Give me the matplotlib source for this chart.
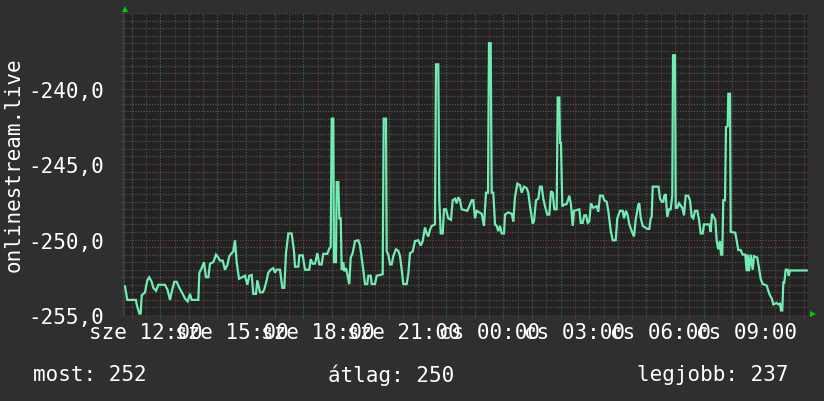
import matplotlib

matplotlib.use("Agg")
import matplotlib.pyplot as plt
from matplotlib.ticker import FixedLocator, MultipleLocator, FuncFormatter

# time in hours (12 = "sze 12:00", 24 = "cs 00:00"), values as plotted (negated)
TIMES = [
    11.266, 11.346, 11.650, 11.675, 11.766, 11.814, 11.850, 11.965, 12.046, 12.116,
    12.198, 12.256, 12.350, 12.431, 12.664, 12.757, 12.839, 12.921, 12.991, 13.072,
    13.166, 13.282, 13.376, 13.457, 13.538, 13.597, 13.830, 13.865, 13.947, 14.028,
    14.098, 14.180, 14.238, 14.354, 14.448, 14.530, 14.587, 14.681, 14.762, 14.843,
    14.913, 14.996, 15.052, 15.112, 15.171, 15.252, 15.462, 15.542, 15.612, 15.696,
    15.752, 15.846, 15.892, 15.986, 16.080, 16.136, 16.220, 16.276, 16.360, 16.451,
    16.510, 16.570, 16.685, 16.766, 16.836, 16.895, 16.976, 17.094,
    17.175, 17.210, 17.326, 17.361, 17.479, 17.559, 17.710, 17.759, 17.829, 17.909,
    17.990, 18.060, 18.143, 18.199, 18.339, 18.409, 18.458, 18.493, 18.549, 18.573,
    18.643, 18.668, 18.724, 18.759, 18.808, 18.843, 18.899, 18.934, 18.993, 19.038,
    19.108, 19.157, 19.227, 19.308, 19.423, 19.483, 19.542, 19.598, 19.657, 19.738,
    19.773, 19.857, 19.892, 20.007, 20.066, 20.182, 20.276, 20.311, 20.392, 20.416,
    20.472, 20.531, 20.591, 20.647, 20.741, 20.822, 20.881, 20.941, 20.997, 21.115,
    21.171, 21.231, 21.325, 21.406, 21.521, 21.605, 21.675, 21.755, 21.815, 21.871,
    21.930, 21.990, 22.105, 22.140, 22.220, 22.255, 22.304, 22.374, 22.420, 22.490,
    22.570, 22.664, 22.724, 22.804, 22.864, 22.920,
    22.979, 23.038, 23.234, 23.304, 23.388, 23.444, 23.503, 23.563, 23.738, 23.818,
    23.888, 23.958, 23.993, 24.052, 24.087, 24.143, 24.203, 24.262, 24.318, 24.378,
    24.437, 24.517, 24.552, 24.668, 24.787, 24.843, 24.902, 24.983, 25.077, 25.136,
    25.217, 25.311, 25.367, 25.427, 25.521, 25.566, 25.636, 25.717, 25.776, 25.836,
    25.892, 25.951, 26.031, 26.101, 26.161, 26.220, 26.276, 26.360, 26.395, 26.451,
    26.476, 26.510, 26.556, 26.615, 26.710, 26.801, 26.860, 26.920, 26.965, 27.150,
    27.200, 27.269, 27.325, 27.385, 27.444, 27.500, 27.559, 27.640, 27.759, 27.815,
    27.874, 27.968, 28.024, 28.108, 28.164, 28.248, 28.318, 28.423, 28.479, 28.573,
    28.668, 28.713, 28.783, 28.843, 28.899, 28.983, 29.063, 29.122, 29.213,
    29.248, 29.297, 29.367, 29.448, 29.528, 29.598, 29.647, 29.682, 29.717, 29.920,
    29.972, 30.031, 30.087, 30.122, 30.171, 30.227, 30.287, 30.346, 30.402, 30.427,
    30.497, 30.521, 30.577, 30.636, 30.752, 30.811, 30.871, 30.962, 31.021, 31.081,
    31.137, 31.196, 31.277, 31.336, 31.395, 31.465, 31.510, 31.696, 31.745, 31.790,
    31.906, 31.955, 32.011, 32.070, 32.105, 32.150, 32.185, 32.245, 32.280, 32.339,
    32.360, 32.420, 32.444, 32.605, 32.654, 32.710, 32.794, 32.864, 32.955, 33.003,
    33.038, 33.084, 33.143, 33.213, 33.259, 33.374, 33.444, 33.493, 33.563, 33.643,
    33.703, 33.759, 33.818, 33.878, 33.934, 34.052, 34.108, 34.168, 34.203, 34.248,
    34.283, 34.318, 34.367, 34.437, 34.472, 34.517, 35.101,
]
VALUES = [
    -253.1, -254.0, -254.0, -254.3, -254.9, -254.9, -253.7, -253.5, -252.7, -252.5,
    -252.8, -253.2, -253.4, -253.0, -253.0, -253.35, -254.0, -253.3, -252.8, -252.8,
    -253.2, -253.6, -253.95, -254.1, -253.6, -254.0, -254.0, -252.2, -251.9, -251.5,
    -252.5, -252.5, -251.6, -251.5, -251.0, -251.2, -251.4, -251.4, -252.0, -251.7,
    -251.1, -250.9, -250.8, -250.05, -251.5, -252.6, -252.4, -253.0, -252.4, -252.35,
    -253.6, -253.6, -252.7, -253.5, -253.5, -253.3, -252.7, -252.2, -252.0, -251.9,
    -252.2, -252.0, -252.0, -253.2, -253.2, -250.9, -249.6, -249.6,
    -250.8, -251.8, -251.8, -251.05, -251.05, -252.0, -252.0, -251.3, -251.6, -251.6,
    -250.9, -251.65, -251.65, -250.95, -250.95, -250.6, -250.5, -242.0, -242.0, -251.5,
    -251.5, -246.2, -246.2, -248.6, -248.6, -252.0, -251.5, -252.1, -251.9, -252.3,
    -252.96, -251.2, -250.9, -250.1, -250.05, -250.4, -251.2, -252.0, -252.95, -252.95,
    -252.4, -252.4, -252.95, -252.95, -252.4, -252.35, -252.3, -242.0, -242.0, -250.8,
    -251.0, -251.65, -251.65, -251.1, -250.65, -250.75, -251.1, -252.0, -252.95, -252.95,
    -252.3, -250.9, -250.8, -250.1, -250.05, -250.4, -250.1, -249.2, -249.6, -249.8,
    -249.35, -249.1, -249.0, -238.4, -238.4, -247.4, -249.6, -249.6, -248.0, -248.0,
    -248.6, -248.7, -247.4, -247.3, -247.6, -247.2,
    -247.4, -248.0, -248.1, -247.8, -247.4, -247.4, -248.6, -248.1, -248.3, -249.1,
    -246.9, -246.9, -237.0, -237.0, -246.9, -246.9, -249.0, -249.1, -249.45, -249.1,
    -249.6, -249.6, -248.35, -248.2, -248.3, -248.8, -247.2, -246.3, -246.4, -246.9,
    -246.5, -246.6, -246.9, -247.8, -248.95, -248.8, -247.4, -247.3, -246.5, -246.5,
    -247.3, -247.8, -248.35, -248.35, -246.8, -246.9, -248.0, -248.0, -240.6, -240.6,
    -243.6, -243.6, -247.8, -247.7, -247.65, -247.1, -247.7, -249.1, -248.1, -248.0,
    -248.9, -248.9, -248.4, -248.4, -248.9, -248.8, -247.6, -247.9, -247.8, -248.15,
    -247.1, -247.1, -247.4, -247.5, -248.1, -249.4, -250.05, -250.05, -248.6, -248.1,
    -248.1, -248.6, -248.1, -248.4, -249.0, -249.45, -249.8, -248.7, -247.7,
    -247.6, -248.55, -249.1, -249.2, -249.3, -249.3, -248.6, -248.5, -246.5, -246.5,
    -247.3, -247.5, -247.5, -247.1, -247.0, -248.5, -248.0, -248.0, -247.1, -237.8,
    -237.8, -247.9, -247.9, -247.6, -247.9, -248.4, -247.1, -247.1, -247.4, -248.5,
    -248.6, -248.1, -248.1, -248.7, -249.6, -249.6, -249.0, -249.0, -249.5, -248.3,
    -248.7, -250.1, -250.65, -250.1, -251.0, -251.0, -247.4, -247.4, -242.55, -242.5,
    -240.35, -240.35, -249.5, -249.55, -250.1, -250.7, -250.7, -251.0, -251.0, -252.1,
    -251.0, -252.1, -251.0, -252.0, -251.1, -251.2, -252.0, -252.6, -252.95, -253.0,
    -253.05, -253.4, -253.7, -253.9, -254.3, -254.2, -254.3, -254.25, -254.7, -254.7,
    -252.85, -252.85, -252.0, -252.0, -252.4, -252.05, -252.05,
]

Y_TICKS = [-255, -250, -245, -240]
LABEL_HOURS = [12, 15, 18, 21, 24, 27, 30, 33]
LABEL_TEXT = ["sze 12:00", "sze 15:00", "sze 18:00", "sze 21:00",
              "cs 00:00", "cs 03:00", "cs 06:00", "cs 09:00"]
X_START, X_END = 11.231, 35.147
Y_MIN, Y_MAX = -255, -235
Y_TITLE = "onlinestream.live"
LEGEND = [("most", 252), ("átlag", 250), ("legjobb", 237)]

BG = "#2f2f2f"
PLOT_BG = "#222222"
MAJOR = "#6e3838"
MINOR = "#525252"
LINE = "#72ecb2"
ARROW = "#00cc00"

plt.rcParams["font.family"] = "DejaVu Sans Mono"
plt.rcParams["font.size"] = 15

W, H = 824, 402
fig = plt.figure(figsize=(W / 100, H / 100), dpi=100, facecolor=BG)
ax = fig.add_axes([124 / W, 1 - 316 / H, 684 / W, 302 / H], facecolor=PLOT_BG)

ax.plot(TIMES, VALUES, color=LINE, lw=1.6, solid_joinstyle="miter", zorder=3)
ax.set_xlim(X_START, X_END)
ax.set_ylim(Y_MIN, Y_MAX)

# y axis: major every 5, minor every 0.5
ax.yaxis.set_major_locator(FixedLocator(Y_TICKS))
ax.yaxis.set_minor_locator(MultipleLocator(0.5))
ax.yaxis.set_major_formatter(FuncFormatter(lambda v, p: f"{v:.1f}".replace(".", ",")))

# x axis: major every hour, labels every 3 hours, minor every half hour
labels = dict(zip(LABEL_HOURS, LABEL_TEXT))
ax.xaxis.set_major_locator(MultipleLocator(1))
ax.xaxis.set_minor_locator(MultipleLocator(0.5))
ax.xaxis.set_major_formatter(FuncFormatter(lambda v, p: labels.get(int(round(v)), "")))

dot = (0, (1, 1.2))
ax.grid(which="major", color=MAJOR, linestyle=dot, lw=0.9, zorder=1)
ax.grid(which="minor", color=MINOR, linestyle=dot, lw=0.9, zorder=1)
ax.set_axisbelow(True)

ax.tick_params(which="major", length=2, color=MAJOR, labelcolor="white", labelsize=15)
ax.tick_params(which="minor", length=2, color=MINOR)
ax.tick_params(axis="y", pad=12)
ax.tick_params(axis="x", pad=3)

for s in ax.spines.values():
    s.set_visible(False)

# rrd style arrows, sitting just outside the plot area
ax.plot([1 / 684], [1 + 4 / 302], marker="^", ms=5, color=ARROW, transform=ax.transAxes,
        clip_on=False, zorder=5, markeredgewidth=0)
ax.plot([1 + 5 / 684], [1.5 / 302], marker=">", ms=5, color=ARROW, transform=ax.transAxes,
        clip_on=False, zorder=5, markeredgewidth=0)
ax.plot([0, 0], [0, 1], color="#3c3c3c", lw=1.5, transform=ax.transAxes, clip_on=False)

fig.text(14 / W, 1 - 165 / H, Y_TITLE, rotation=90, ha="center", va="center",
         color="white", fontsize=15)

for x_px, (name, val) in zip([33, 328, 637], LEGEND):
    fig.text(x_px / W, 1 - 375 / H, f"{name}: {val}", ha="left", va="center",
             color="white", fontsize=15)

fig.savefig("out.png", dpi=100, facecolor=BG)
